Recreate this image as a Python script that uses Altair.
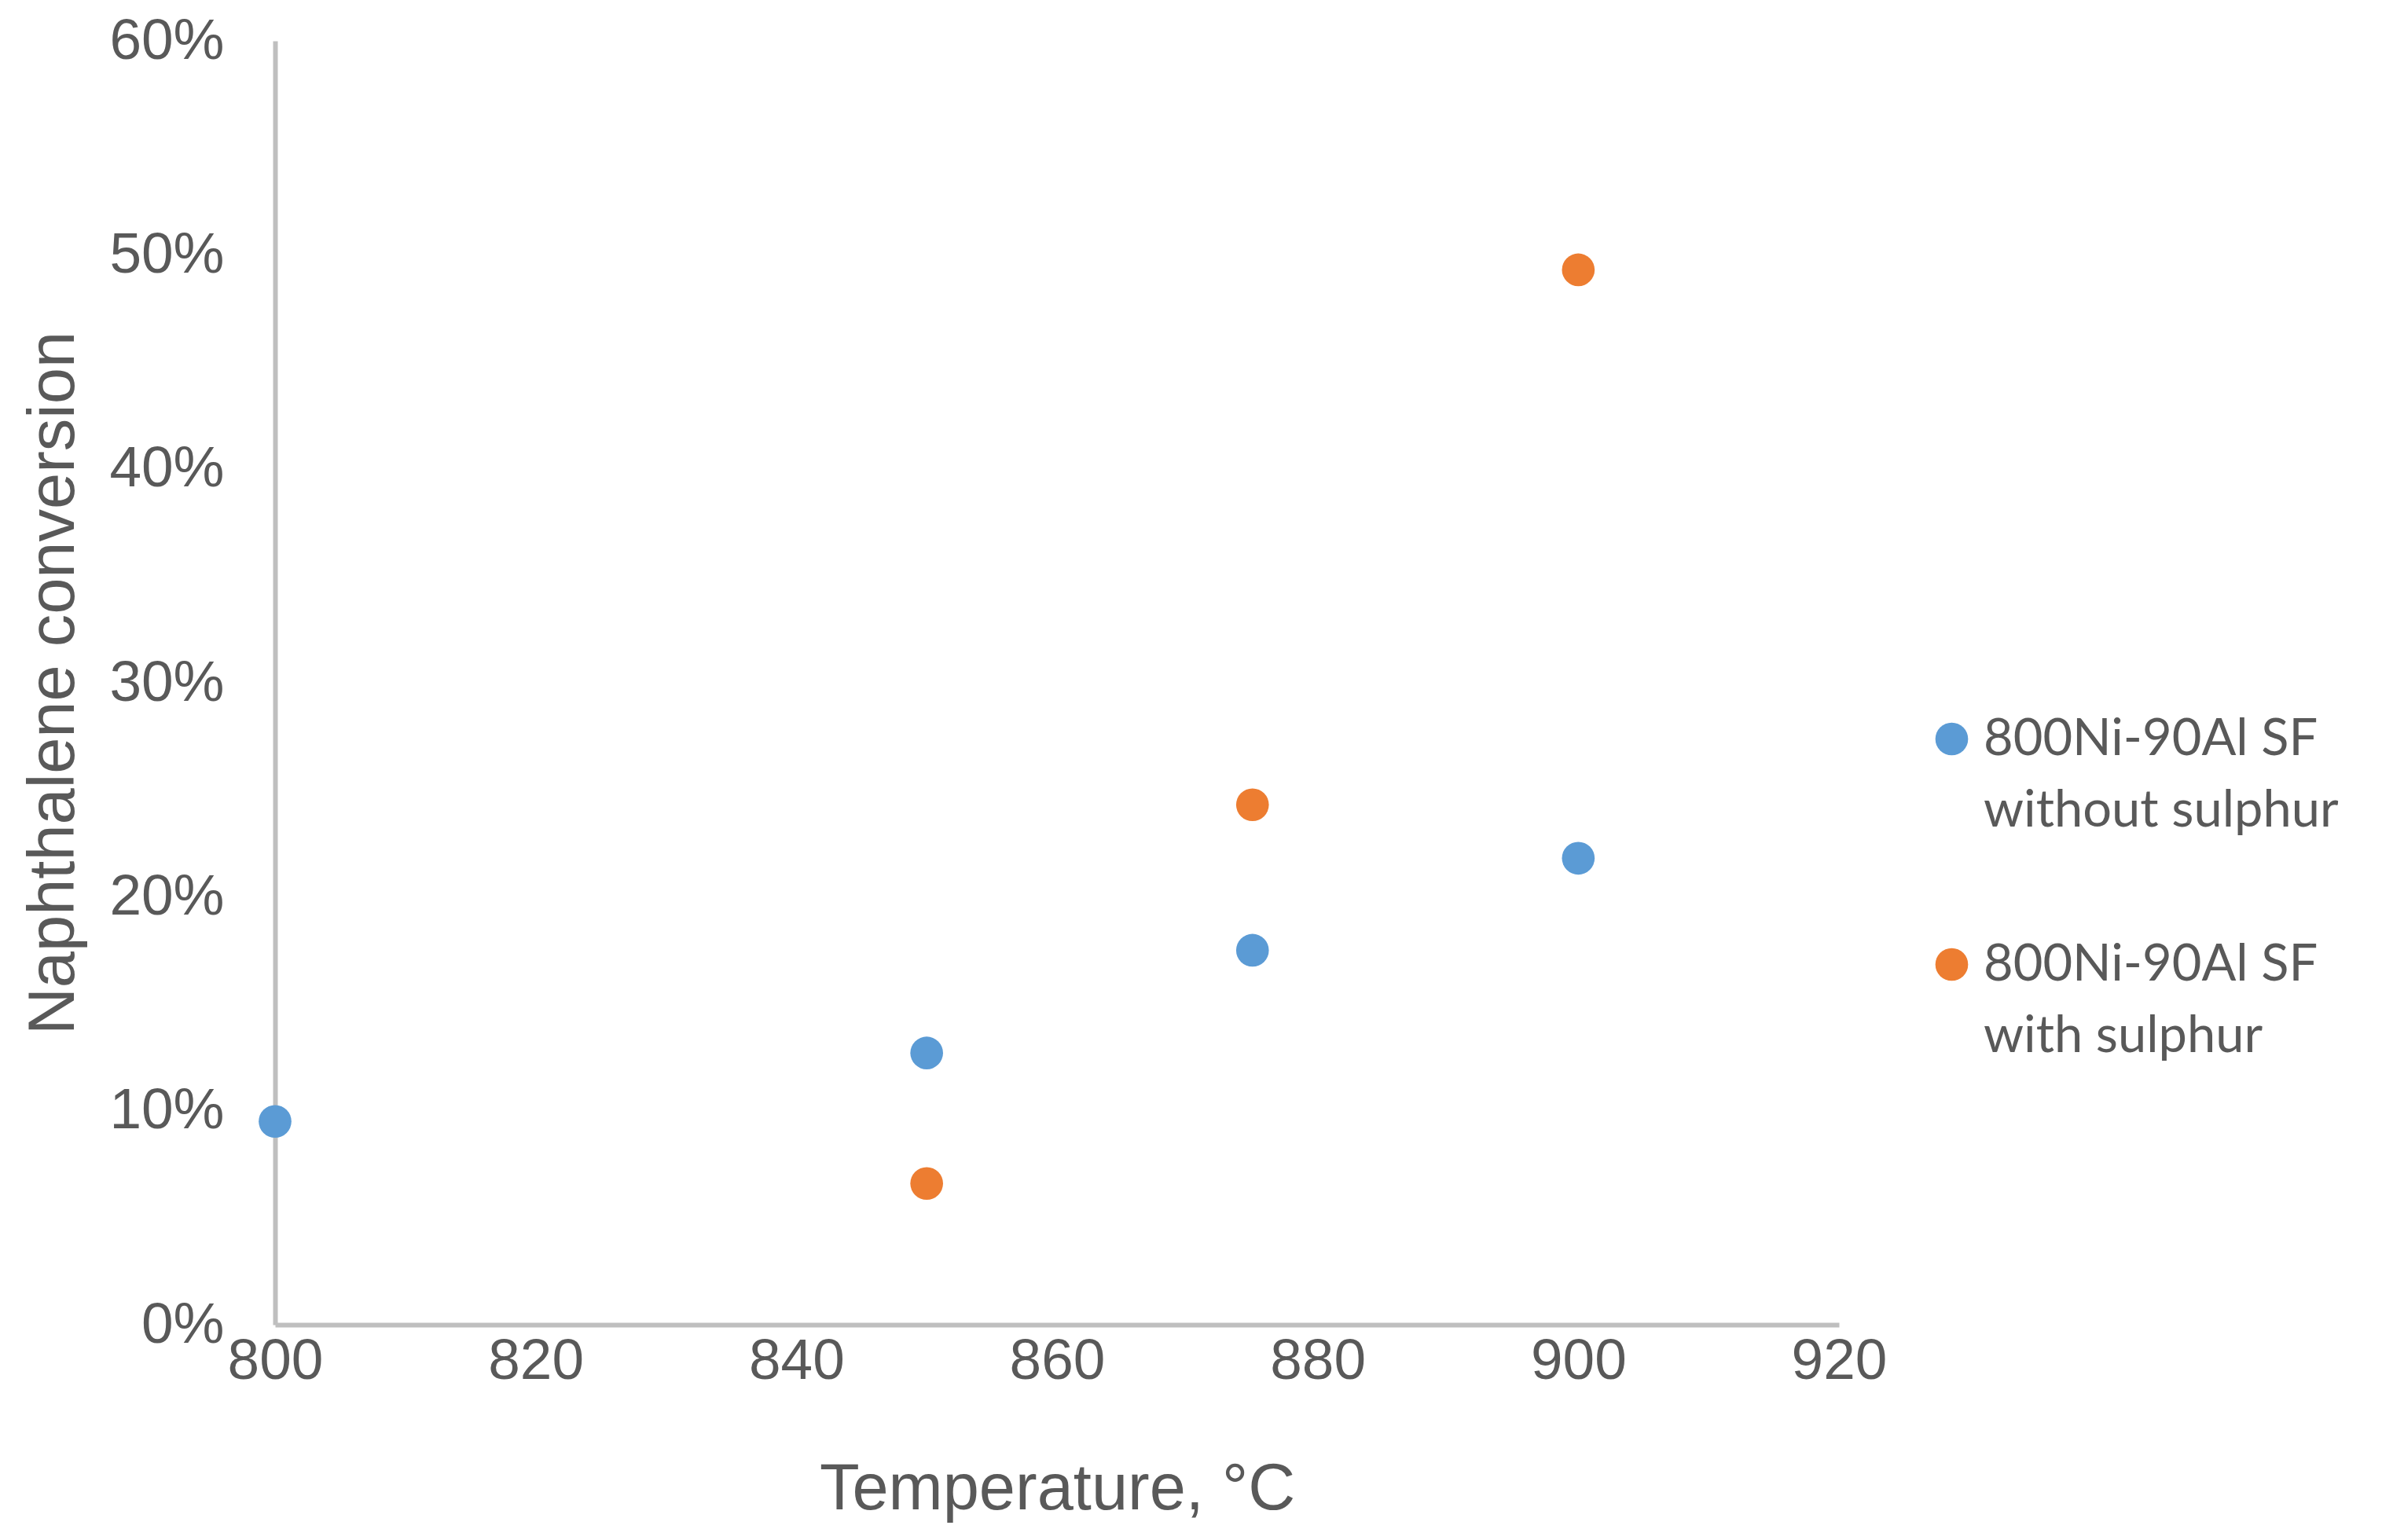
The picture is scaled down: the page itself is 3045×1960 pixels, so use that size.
import altair as alt
import pandas as pd

temps_without = [800, 850, 875, 900]
conv_without = [0.095, 0.127, 0.175, 0.218]
temps_with = [850, 875, 900]
conv_with = [0.066, 0.243, 0.493]
series_names = ["800Ni-90Al SF without sulphur", "800Ni-90Al SF with sulphur"]
series_colors = ["#5B9BD5", "#ED7D31"]
x_ticks = [800, 820, 840, 860, 880, 900, 920]
y_ticks = [0, 0.1, 0.2, 0.3, 0.4, 0.5, 0.6]

rows = []
for t, v in zip(temps_without, conv_without):
    rows.append({"Temperature": t, "Conversion": v, "Series": series_names[0]})
for t, v in zip(temps_with, conv_with):
    rows.append({"Temperature": t, "Conversion": v, "Series": series_names[1]})
df = pd.DataFrame(rows)

grey = "#595959"
axis_col = "#BFBFBF"

chart = alt.Chart(df).mark_circle(size=1735, opacity=1).encode(
    x=alt.X("Temperature:Q",
            scale=alt.Scale(domain=[800, 920], nice=False, zero=False),
            axis=alt.Axis(values=x_ticks, title="Temperature, °C", grid=False, ticks=False,
                          domainColor=axis_col, domainWidth=6,
                          labelFont="Liberation Sans", labelFontSize=73, labelColor=grey,
                          labelPadding=10, labelFlush=False,
                          titleFont="Liberation Sans", titleFontSize=83, titleColor=grey,
                          titleFontWeight="normal", titlePadding=85)),
    y=alt.Y("Conversion:Q",
            scale=alt.Scale(domain=[0, 0.6], nice=False),
            axis=alt.Axis(values=y_ticks, format=".0%", title="Naphthalene conversion",
                          grid=False, ticks=False,
                          domainColor=axis_col, domainWidth=6,
                          labelFont="Liberation Sans", labelFontSize=73, labelColor=grey,
                          labelPadding=65, labelFlush=False,
                          titleFont="Liberation Sans", titleFontSize=83, titleColor=grey,
                          titleFontWeight="normal", titlePadding=40)),
    color=alt.Color("Series:N",
                    scale=alt.Scale(domain=series_names, range=series_colors),
                    legend=alt.Legend(title=None, orient="none", legendX=2101, legendY=856,
                                      symbolType="circle", symbolSize=1735, symbolOpacity=1,
                                      symbolStrokeWidth=0,
                                      labelFont="Lato", labelFontSize=65, labelColor=grey,
                                      labelLimit=1000, labelOffset=8,
                                      labelExpr="[slice(datum.label, 0, 13), slice(datum.label, 14)]",
                                      labelBaseline="middle",
                                      rowPadding=130, padding=0)),
).properties(
    width=1990, height=1634,
    autosize=alt.AutoSizeParams(type="none"),
    padding={"left": 342, "top": 44, "right": 690, "bottom": 258},
).configure(
    style={"guide-label": {"lineHeight": 91}}
).configure_view(stroke=None)

chart.save("out.html", embed_options={"renderer": "svg", "actions": False})
